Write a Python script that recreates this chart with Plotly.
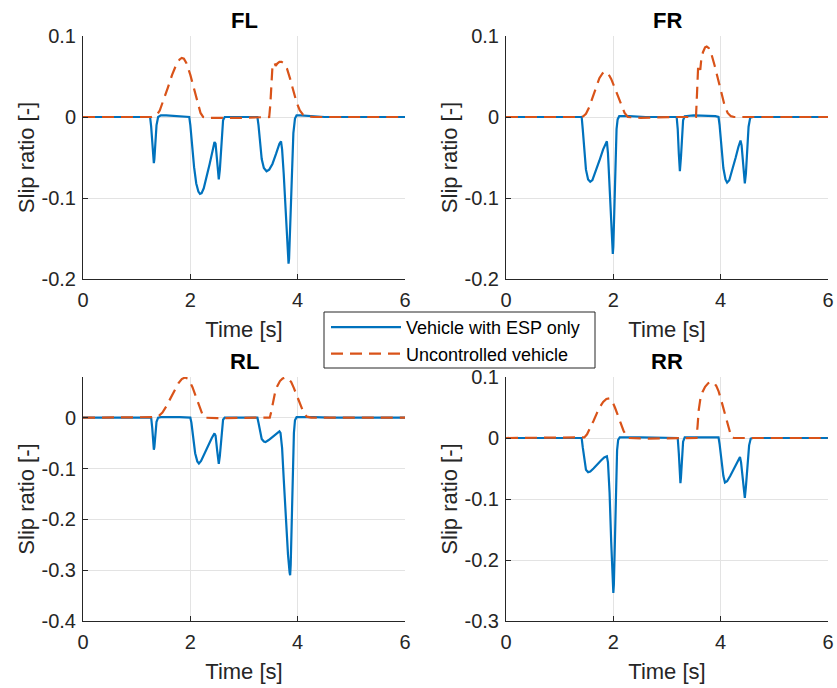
import plotly.graph_objects as go

# ---------------- data ----------------
fl_esp_t = [0, 1.25, 1.27, 1.29, 1.31, 1.32, 1.33, 1.35, 1.37, 1.40, 1.45, 1.55, 1.7, 1.98,
            2.00, 2.03, 2.07, 2.11, 2.15, 2.18, 2.21, 2.25, 2.30, 2.36, 2.42, 2.45, 2.47, 2.49, 2.51, 2.53, 2.55, 2.57, 2.59, 2.61, 2.64, 2.7,
            3.25, 3.27, 3.30, 3.33, 3.37, 3.42, 3.47, 3.53, 3.60, 3.66, 3.69, 3.71, 3.74, 3.77, 3.80, 3.82, 3.83, 3.84, 3.86, 3.89, 3.92, 3.95, 3.98, 4.05, 4.3, 4.5, 6]
fl_esp_v = [0, 0, -0.012, -0.035, -0.053, -0.057, -0.052, -0.03, -0.01, 0.0, 0.002, 0.002, 0.001, 0,
            -0.01, -0.035, -0.062, -0.082, -0.092, -0.095, -0.094, -0.088, -0.075, -0.058, -0.040, -0.031, -0.033, -0.05, -0.068, -0.077, -0.065, -0.04, -0.018, -0.004, 0, 0,
            0, -0.01, -0.035, -0.052, -0.063, -0.067, -0.065, -0.058, -0.045, -0.033, -0.030, -0.04, -0.07, -0.11, -0.155, -0.176, -0.181, -0.175, -0.14, -0.07, -0.02, -0.002, 0.002, 0.002, 0.001, 0, 0]
fl_unc_t = [0, 1.28, 1.33, 1.38, 1.43, 1.50, 1.58, 1.66, 1.74, 1.80, 1.84, 1.88, 1.93, 2.00, 2.07, 2.13, 2.19, 2.24, 2.3, 3.0,
            3.47, 3.49, 3.51, 3.53, 3.55, 3.57, 3.59, 3.62, 3.66, 3.70, 3.75, 3.80, 3.86, 3.92, 3.98, 4.04, 4.10, 4.18, 4.3, 6]
fl_unc_v = [0, 0, 0.001, 0.003, 0.008, 0.02, 0.036, 0.052, 0.065, 0.071, 0.073, 0.072, 0.066, 0.052, 0.034, 0.018, 0.005, 0, -0.001, -0.001,
            0, 0.015, 0.045, 0.062, 0.066, 0.067, 0.063, 0.066, 0.068, 0.068, 0.066, 0.060, 0.047, 0.032, 0.018, 0.008, 0.003, 0.001, 0, 0]

fr_esp_t = [0, 1.41, 1.43, 1.46, 1.49, 1.53, 1.57, 1.61, 1.67, 1.74, 1.81, 1.86, 1.88, 1.90, 1.93, 1.96, 1.98, 1.99, 2.00, 2.02, 2.04, 2.06, 2.08, 2.11, 2.3, 2.6,
            3.18, 3.20, 3.22, 3.24, 3.26, 3.28, 3.30, 3.33, 3.5, 3.9,
            3.96, 3.98, 4.01, 4.05, 4.09, 4.12, 4.16, 4.22, 4.28, 4.33, 4.37, 4.39, 4.42, 4.45, 4.47, 4.49, 4.52, 4.55, 4.6, 6]
fr_esp_v = [0, 0, -0.015, -0.045, -0.065, -0.077, -0.080, -0.078, -0.068, -0.054, -0.040, -0.031, -0.030, -0.045, -0.09, -0.14, -0.165, -0.169, -0.16, -0.11, -0.05, -0.015, -0.003, 0.001, 0.001, 0,
            0, -0.015, -0.045, -0.067, -0.05, -0.02, -0.004, 0.001, 0.002, 0.001,
            0, -0.01, -0.035, -0.063, -0.077, -0.081, -0.078, -0.065, -0.05, -0.037, -0.029, -0.035, -0.06, -0.082, -0.07, -0.04, -0.012, -0.001, 0, 0]
fr_unc_t = [0, 1.39, 1.44, 1.49, 1.55, 1.62, 1.68, 1.74, 1.80, 1.85, 1.90, 1.96, 2.02, 2.09, 2.15, 2.21, 2.27, 2.5, 3.2,
            3.54, 3.56, 3.58, 3.60, 3.62, 3.64, 3.67, 3.71, 3.74, 3.78, 3.83, 3.89, 3.95, 4.01, 4.07, 4.13, 4.19, 4.25, 6]
fr_unc_v = [0, 0, 0.001, 0.004, 0.012, 0.026, 0.038, 0.048, 0.054, 0.056, 0.054, 0.047, 0.037, 0.025, 0.014, 0.005, 0, -0.001, 0,
            0, 0.03, 0.062, 0.065, 0.058, 0.072, 0.080, 0.086, 0.087, 0.085, 0.077, 0.063, 0.047, 0.030, 0.015, 0.005, 0.001, 0, 0]

rl_esp_t = [0, 1.27, 1.29, 1.31, 1.32, 1.33, 1.35, 1.37, 1.40, 1.45, 1.8,
            2.0, 2.02, 2.05, 2.09, 2.13, 2.16, 2.20, 2.26, 2.33, 2.40, 2.45, 2.47, 2.50, 2.53, 2.55, 2.57, 2.59, 2.61, 2.64,
            3.25, 3.27, 3.30, 3.33, 3.37, 3.40, 3.46, 3.53, 3.60, 3.66, 3.68, 3.71, 3.74, 3.78, 3.82, 3.85, 3.86, 3.87, 3.89, 3.91, 3.93, 3.95, 3.98, 4.3, 4.6, 6]
rl_esp_v = [0, 0, -0.02, -0.05, -0.063, -0.058, -0.03, -0.008, 0.0, 0.001, 0.001,
            0, -0.01, -0.04, -0.07, -0.086, -0.090, -0.085, -0.071, -0.055, -0.040, -0.031, -0.035, -0.065, -0.091, -0.075, -0.045, -0.018, -0.004, 0,
            0, -0.01, -0.03, -0.042, -0.047, -0.048, -0.044, -0.038, -0.032, -0.027, -0.03, -0.06, -0.12, -0.2, -0.27, -0.305, -0.310, -0.29, -0.2, -0.1, -0.03, -0.005, 0.001, 0.001, 0, 0]
rl_unc_t = [0, 1.28, 1.35, 1.42, 1.48, 1.55, 1.63, 1.71, 1.78, 1.84, 1.90, 1.95, 1.99, 2.04, 2.09, 2.14, 2.19, 2.23, 2.26, 2.5, 3.2,
            3.48, 3.50, 3.52, 3.55, 3.58, 3.62, 3.67, 3.72, 3.77, 3.82, 3.88, 3.93, 3.99, 4.05, 4.11, 4.17, 4.25, 6]
rl_unc_v = [0, 0, 0.001, 0.004, 0.01, 0.022, 0.038, 0.055, 0.068, 0.076, 0.079, 0.077, 0.071, 0.06, 0.045, 0.03, 0.015, 0.005, 0, -0.001, 0,
            0, 0.008, 0.02, 0.035, 0.05, 0.062, 0.072, 0.077, 0.079, 0.077, 0.07, 0.058, 0.042, 0.025, 0.01, 0.002, 0, 0]

rr_esp_t = [0, 1.41, 1.43, 1.46, 1.49, 1.53, 1.57, 1.63, 1.70, 1.77, 1.83, 1.88, 1.90, 1.93, 1.96, 1.99, 2.00, 2.01, 2.03, 2.05, 2.07, 2.09, 2.12, 2.5, 3.0,
            3.20, 3.22, 3.24, 3.25, 3.26, 3.28, 3.30, 3.33, 3.5,
            3.96, 3.98, 4.01, 4.05, 4.08, 4.12, 4.18, 4.25, 4.31, 4.36, 4.38, 4.41, 4.45, 4.47, 4.50, 4.53, 4.56, 4.6, 6]
rr_esp_v = [0, 0, -0.015, -0.038, -0.052, -0.056, -0.055, -0.050, -0.043, -0.037, -0.032, -0.030, -0.04, -0.09, -0.17, -0.24, -0.254, -0.24, -0.16, -0.07, -0.02, -0.003, 0.001, 0.001, 0,
            0, -0.025, -0.06, -0.074, -0.065, -0.03, -0.006, 0.001, 0.001,
            0.001, -0.01, -0.035, -0.062, -0.073, -0.071, -0.062, -0.05, -0.039, -0.031, -0.04, -0.07, -0.098, -0.08, -0.04, -0.012, -0.001, 0, 0]
rr_unc_t = [0, 1.41, 1.46, 1.51, 1.57, 1.63, 1.69, 1.75, 1.81, 1.87, 1.93, 1.98, 2.03, 2.08, 2.14, 2.19, 2.24, 2.28, 2.6, 3.3,
            3.55, 3.57, 3.59, 3.62, 3.66, 3.71, 3.77, 3.83, 3.88, 3.92, 3.96, 4.01, 4.06, 4.11, 4.16, 4.20, 4.25, 6]
rr_unc_v = [0, 0, 0.001, 0.006, 0.016, 0.028, 0.040, 0.051, 0.059, 0.064, 0.065, 0.060, 0.050, 0.038, 0.024, 0.012, 0.004, 0, -0.001, 0,
            0, 0.02, 0.045, 0.063, 0.075, 0.084, 0.090, 0.092, 0.090, 0.085, 0.077, 0.062, 0.045, 0.027, 0.01, 0.001, 0, 0]

titles = ["FL", "FR", "RL", "RR"]
series_names = ["Vehicle with ESP only", "Uncontrolled vehicle"]
x_ticks = [0, 2, 4, 6]
x_ticktext = ["0", "2", "4", "6"]
fl_yticks = [-0.2, -0.1, 0, 0.1]
fl_yticktext = ["-0.2", "-0.1", "0", "0.1"]
fr_yticks = [-0.2, -0.1, 0, 0.1]
fr_yticktext = ["-0.2", "-0.1", "0", "0.1"]
rl_yticks = [-0.4, -0.3, -0.2, -0.1, 0]
rl_yticktext = ["-0.4", "-0.3", "-0.2", "-0.1", "0"]
rr_yticks = [-0.3, -0.2, -0.1, 0, 0.1]
rr_yticktext = ["-0.3", "-0.2", "-0.1", "0", "0.1"]
y_ranges = [[-0.2, 0.1], [-0.2, 0.1], [-0.4, 0.08], [-0.3, 0.1]]

# ---------------- figure ----------------
W, H = 837, 688
BLUE = "#0072BD"
ORANGE = "#D95319"
AX = "#262626"
GRID = "#E3E3E3"
FONT = "Liberation Sans, Arial, Helvetica, sans-serif"

panels = [
    (fl_esp_t, fl_esp_v, fl_unc_t, fl_unc_v, fl_yticks, fl_yticktext),
    (fr_esp_t, fr_esp_v, fr_unc_t, fr_unc_v, fr_yticks, fr_yticktext),
    (rl_esp_t, rl_esp_v, rl_unc_t, rl_unc_v, rl_yticks, rl_yticktext),
    (rr_esp_t, rr_esp_v, rr_unc_t, rr_unc_v, rr_yticks, rr_yticktext),
]
# pixel boxes: (left, right, top, bottom)
boxes = [(83, 405, 36, 279), (506, 828, 36, 279), (83, 405, 377, 621), (506, 828, 377, 621)]


def fx(px):
    return px / W


def fy(py):
    return 1 - py / H


fig = go.Figure()
layout = dict(
    width=W, height=H, margin=dict(l=0, r=0, t=0, b=0, autoexpand=False),
    paper_bgcolor="white", plot_bgcolor="white",
    font=dict(family=FONT, color=AX, size=20),
    showlegend=True,
    legend=dict(x=fx(326), y=fy(309), xanchor="left", yanchor="top",
                bgcolor="rgba(0,0,0,0)", borderwidth=0,
                font=dict(size=18, color="black", family=FONT),
                tracegroupgap=0, itemwidth=70),
    shapes=[dict(type="rect", xref="paper", yref="paper",
                 x0=fx(324), x1=fx(595), y0=fy(368), y1=fy(312),
                 line=dict(color=AX, width=1), fillcolor="white", layer="below")],
)
annotations = []
for i, (et, ev, ut, uv, yt, ytt) in enumerate(panels):
    sfx = "" if i == 0 else str(i + 1)
    l, r, t, b = boxes[i]
    fig.add_trace(go.Scatter(x=et, y=ev, mode="lines", name=series_names[0],
                             line=dict(color=BLUE, width=2.2),
                             showlegend=(i == 0), xaxis="x" + sfx, yaxis="y" + sfx))
    fig.add_trace(go.Scatter(x=ut, y=uv, mode="lines", name=series_names[1],
                             line=dict(color=ORANGE, width=2.2, dash="12px,7px"),
                             showlegend=(i == 0), xaxis="x" + sfx, yaxis="y" + sfx))
    layout["xaxis" + sfx] = dict(
        domain=[fx(l), fx(r)], anchor="y" + sfx, range=[0, 6], automargin=False,
        tickvals=x_ticks, ticktext=x_ticktext, ticks="inside", ticklen=5, tickcolor=AX,
        showline=True, linecolor=AX, linewidth=1, showgrid=True, gridcolor=GRID, gridwidth=1,
        zeroline=False, tickfont=dict(size=20, color=AX), ticklabelstandoff=3,
        title=dict(text="Time [s]", font=dict(size=22, color=AX), standoff=11),
    )
    layout["yaxis" + sfx] = dict(
        domain=[fy(b), fy(t)], anchor="x" + sfx, range=y_ranges[i], automargin=False,
        tickvals=yt, ticktext=ytt, ticks="inside", ticklen=5, tickcolor=AX,
        showline=True, linecolor=AX, linewidth=1, showgrid=True, gridcolor=GRID, gridwidth=1,
        zeroline=False, tickfont=dict(size=20, color=AX), ticklabelstandoff=2,
        title=dict(text="Slip ratio [-]", font=dict(size=22, color=AX), standoff=0),
    )
    annotations.append(dict(text="<b>" + titles[i] + "</b>", x=fx((l + r) / 2), y=fy(t - 16),
                            xref="paper", yref="paper", showarrow=False,
                            font=dict(size=22, color="black", family=FONT),
                            xanchor="center", yanchor="middle"))
layout["annotations"] = annotations
fig.update_layout(**layout)
fig.write_html("out.html", config={"displayModeBar": False},
               post_script="document.body.style.margin='0';document.body.style.overflow='hidden';")
